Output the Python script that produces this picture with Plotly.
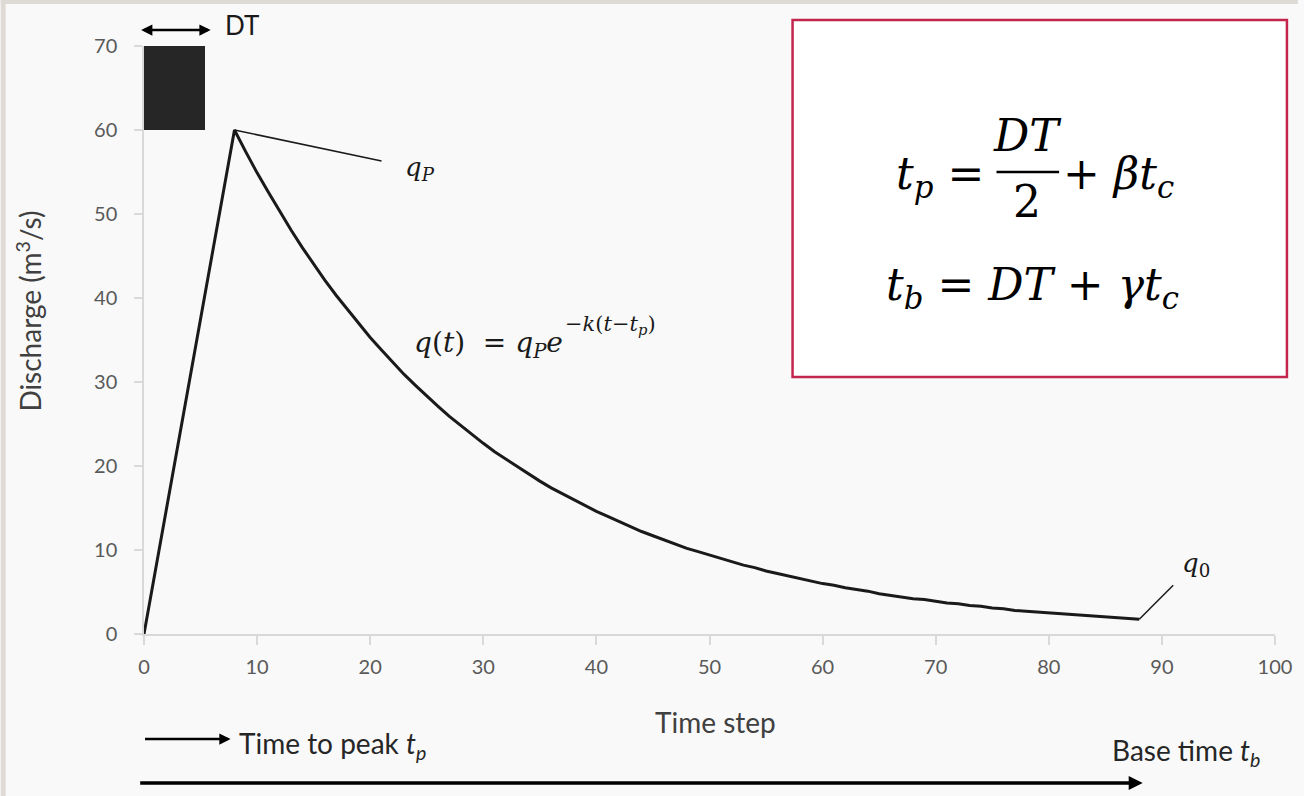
import plotly.graph_objects as go

# ---------------- data ----------------
time_step = list(range(0, 89))
discharge = [0.0, 7.5, 15.0, 22.5, 30.0, 37.5, 45.0, 52.5, 60.0,
             57.4, 54.9, 52.6, 50.3, 48.1, 46.0, 44.0, 42.1, 40.3, 38.6,
             36.9, 35.3, 33.8, 32.3, 30.9, 29.6, 28.3, 27.1, 25.9, 24.8,
             23.7, 22.7, 21.7, 20.8, 19.9, 19.0, 18.2, 17.4, 16.7, 15.9,
             15.2, 14.6, 14.0, 13.4, 12.8, 12.2, 11.7, 11.2, 10.7, 10.2,
             9.8, 9.4, 9.0, 8.6, 8.2, 7.9, 7.5, 7.2, 6.9, 6.6,
             6.3, 6.0, 5.8, 5.5, 5.3, 5.1, 4.8, 4.6, 4.4, 4.2,
             4.1, 3.9, 3.7, 3.6, 3.4, 3.3, 3.1, 3.0, 2.8, 2.7,
             2.6, 2.5, 2.4, 2.3, 2.2, 2.1, 2.0, 1.9, 1.8, 1.75]
rain_start, rain_end = 0.0, 5.4
rain_low, rain_high = 60.0, 70.0
x_ticks = [0, 10, 20, 30, 40, 50, 60, 70, 80, 90, 100]
y_ticks = [0, 10, 20, 30, 40, 50, 60, 70]

# ---------------- layout helpers ----------------
W, H = 1304, 796
L, R, T, B = 144, 23, 46, 162
PW, PH = W - L - R, H - T - B


def px(x):
    return (x - L) / PW


def py(y):
    return (H - B - y) / PH


peak_i = discharge.index(max(discharge))
peak_t, peak_q = time_step[peak_i], discharge[peak_i]
end_t, end_q = time_step[-1], discharge[-1]

TXT = "Lato"
MATH = "DejaVu Serif"
NB = "\u00a0"


def ann(text, x, y, size, family=TXT, color="#1a1a1a", xanchor="center", yanchor="middle", **kw):
    d = dict(text=text, x=px(x), y=py(y), xref="paper", yref="paper", showarrow=False,
             xanchor=xanchor, yanchor=yanchor, borderpad=0,
             font=dict(family=family, size=size, color=color))
    d.update(kw)
    return d


def arrow(x_head, x_tail, y, width, size, both=False):
    return dict(text="", x=px(x_head), y=py(y), xref="paper", yref="paper", showarrow=True,
                ax=-(x_head - x_tail), ay=0, arrowhead=2, arrowwidth=width, arrowsize=size,
                arrowside="end+start" if both else "end", arrowcolor="black",
                xanchor="center", yanchor="middle")


fig = go.Figure()
fig.add_trace(go.Bar(
    x=[(rain_start + rain_end) / 2], y=[rain_high - rain_low], base=[rain_low],
    width=[rain_end - rain_start], marker=dict(color="#262626", line=dict(width=0)),
    hoverinfo="skip", showlegend=False))
fig.add_trace(go.Scatter(
    x=time_step, y=discharge, mode="lines",
    line=dict(color="#1a1a1a", width=3), showlegend=False))

shapes = [
    dict(type="rect", xref="paper", yref="paper", x0=px(0), x1=px(W), y0=py(0), y1=py(4),
         fillcolor="#dedbd6", line=dict(width=0), layer="below"),
    dict(type="rect", xref="paper", yref="paper", x0=px(0), x1=px(5), y0=py(0), y1=py(H),
         fillcolor="#dedbd6", line=dict(width=0), layer="below"),
    dict(type="rect", xref="paper", yref="paper", x0=px(796), x1=px(1293), y0=py(377), y1=py(20),
         fillcolor="white", line=dict(color="#c3254c", width=2.5)),
    dict(type="line", xref="paper", yref="paper", x0=px(1001), x1=px(1064), y0=py(172), y1=py(172),
         line=dict(color="black", width=2.5)),
    dict(type="line", xref="x", yref="y", x0=peak_t, y0=peak_q, x1=21.0, y1=56.3,
         line=dict(color="#1a1a1a", width=1.5)),
    dict(type="line", xref="x", yref="y", x0=end_t, y0=end_q, x1=91.0, y1=5.8,
         line=dict(color="#1a1a1a", width=1.5)),
]

annotations = [
    ann("Time step", 719, 722, 28, color="#404040"),
    ann("Discharge (m<sup>3</sup>/s)", 28, 311, 28, color="#404040", textangle=-90),
    arrow(211, 140, 30, 2.5, 0.9, both=True),
    ann("DT", 224, 25, 26, xanchor="left"),
    ann("<i>q</i><sub><i>P</i></sub>", 405, 169, 26, family=MATH, xanchor="left"),
    ann("<i>q</i>(<i>t</i>)" + NB * 2 + "=" + NB + "<i>q</i><sub><i>P</i></sub>"
        + "<i>e</i>", 414, 344, 28, family=MATH, xanchor="left"),
    ann("−<i>k</i>(<i>t</i>−<i>t</i><sub><i>p</i></sub>)", 566, 325, 21, family=MATH,
        xanchor="left"),
    ann("<i>q</i><sub>0</sub>", 1187, 564, 26, family=MATH, xanchor="left"),
    ann("<i>t</i><sub><i>p</i></sub>" + NB + "=", 989, 177, 44, family=MATH, color="black",
        xanchor="right"),
    ann("<i>DT</i>", 1032, 135, 44, family=MATH, color="black"),
    ann("2", 1032, 202, 44, family=MATH, color="black"),
    ann("+" + NB + "<i>βt</i><sub><i>c</i></sub>", 1067, 177, 44, family=MATH, color="black",
        xanchor="left"),
    ann("<i>t</i><sub><i>b</i></sub>" + NB + "=" + NB + "<i>DT</i>" + NB + "+" + NB
        + "<i>γt</i><sub><i>c</i></sub>", 1037, 287, 44, family=MATH, color="black"),
    arrow(231, 144, 739, 2.5, 0.9),
    ann("Time to peak <i>t</i><sub><i>p</i></sub>", 239, 745, 28, color="#262626",
        xanchor="left"),
    arrow(1148, 144, 783, 3.5, 0.8),
    ann("Base time <i>t</i><sub><i>b</i></sub>", 1267, 752, 28, color="#262626",
        xanchor="right"),
]

fig.update_layout(
    width=W, height=H,
    margin=dict(l=L, r=R, t=T, b=B, pad=0),
    paper_bgcolor="#f9f9f9", plot_bgcolor="rgba(0,0,0,0)",
    shapes=shapes, annotations=annotations, showlegend=False, bargap=0,
    xaxis=dict(range=[0, 100], tickvals=x_ticks, ticktext=[str(v) for v in x_ticks],
               showgrid=False, zeroline=False, showline=True, linecolor="#d9d9d9", linewidth=1.5,
               ticks="outside", ticklen=9, tickcolor="#d9d9d9", tickwidth=1.5,
               ticklabelstandoff=5, tickfont=dict(family=TXT, size=20, color="#595959")),
    yaxis=dict(range=[0, 70], tickvals=y_ticks, ticktext=[str(v) for v in y_ticks],
               showgrid=False, zeroline=False, showline=True, linecolor="#d9d9d9", linewidth=1.5,
               ticks="outside", ticklen=8, tickcolor="#d9d9d9", tickwidth=1.5,
               ticklabelstandoff=13, tickfont=dict(family=TXT, size=20, color="#595959")),
)

fig.write_html("out.html")
